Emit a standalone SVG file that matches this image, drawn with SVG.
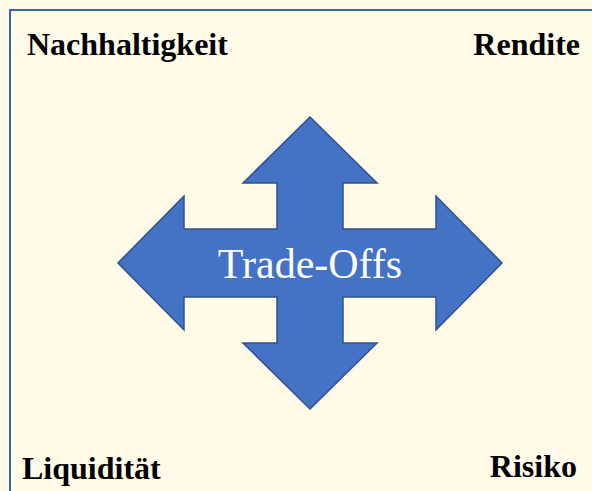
<svg xmlns="http://www.w3.org/2000/svg" width="592" height="491" viewBox="0 0 592 491">
  <style>
    .corner { font-family: "Liberation Serif", "Times New Roman", serif; font-weight: bold; font-size: 32px; fill: #000; }
    .center { font-family: "Liberation Serif", "Times New Roman", serif; font-size: 42px; fill: #fff; }
    .frame { fill: none; stroke: #3C62A8; stroke-width: 2; }
    .arrow { fill: #4472C4; stroke: #2F528F; stroke-width: 1.5; stroke-linejoin: miter; }
  </style>
  <rect x="0" y="0" width="592" height="491" fill="#FFFBE8"/>
  <!-- frame lines along the top and left -->
  <g id="frame">
    <path class="frame" d="M10,491 V10 H592"/>
  </g>
  <!-- four-way arrow with its label -->
  <g id="tradeoffs">
    <polygon class="arrow" points="310,117 377,183 343,183 343,229 436,229 436,196 502,263 436,330 436,297 343,297 343,343 377,343 310,409 243,343 277,343 277,297 184,297 184,330 118,263 184,196 184,229 277,229 277,183 243,183"/>
    <text class="center" x="310" y="278" text-anchor="middle">Trade-Offs</text>
  </g>
  <g id="nachhaltigkeit"><text class="corner" x="27" y="55">Nachhaltigkeit</text></g>
  <g id="rendite"><text class="corner" x="580" y="55" text-anchor="end">Rendite</text></g>
  <g id="liquiditaet"><text class="corner" x="22" y="479">Liquidität</text></g>
  <g id="risiko"><text class="corner" x="577" y="477" text-anchor="end">Risiko</text></g>
</svg>
